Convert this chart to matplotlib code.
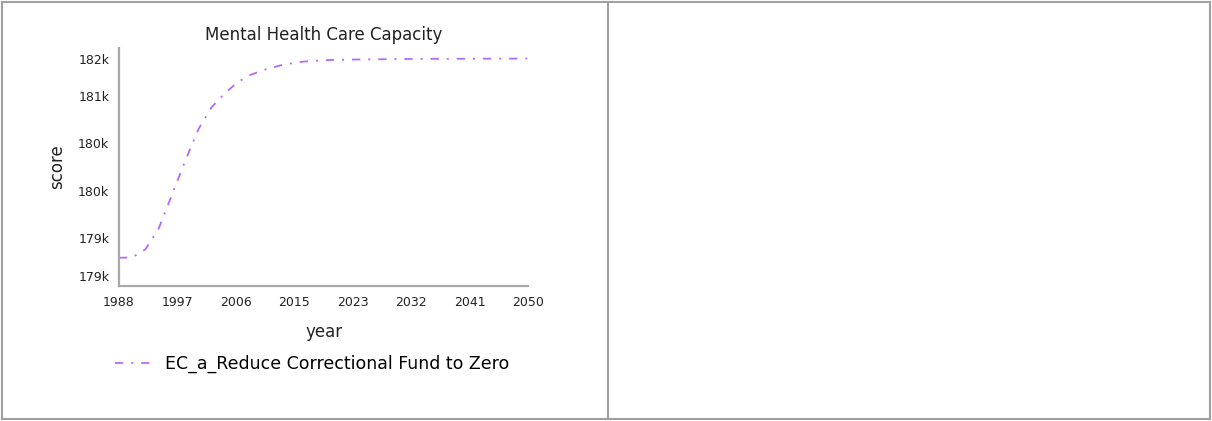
import matplotlib
matplotlib.use("Agg")
import matplotlib.pyplot as plt
from matplotlib.lines import Line2D
from matplotlib.ticker import FuncFormatter

# values
years = [1988, 1990, 1992, 1994, 1996, 1998, 2000, 2002, 2004, 2006,
         2008, 2010, 2013, 2016, 2020, 2026, 2035, 2050]
capacity = [179087, 179090, 179190, 179440, 179850, 180260, 180650, 180920,
            181090, 181230, 181320, 181380, 181445, 181480, 181500, 181508,
            181514, 181517]
x_ticks = [1988, 1996.857, 2005.714, 2014.571, 2023.429, 2032.286, 2041.143, 2050]
x_tick_labels = ["1988", "1997", "2006", "2015", "2023", "2032", "2041", "2050"]
y_ticks = [178860, 179330, 179900, 180490, 181060, 181507]
series_name = "EC_a_Reduce Correctional Fund to Zero"

W, H = 1212, 421
fig = plt.figure(figsize=(W / 100, H / 100), dpi=100)
fig.patch.set_facecolor("white")

ax = fig.add_axes([119 / W, (H - 286) / H, (528 - 119) / W, 238 / H])
ax.plot(years, capacity, color="#b36bff", lw=1.3,
        ls=(0, (4.6, 4.4, 1.1, 4.4)), label=series_name)

ax.set_xlim(1988, 2050)
ax.set_ylim(178742, 181646)
ax.set_xticks(x_ticks)
ax.set_xticklabels(x_tick_labels)
ax.set_yticks(y_ticks)
ax.yaxis.set_major_formatter(FuncFormatter(lambda v, p: f"{v / 1000:.0f}k"))
ax.tick_params(length=0, labelsize=9, pad=7, colors="#222222")

for s in ["top", "right"]:
    ax.spines[s].set_visible(False)
for s in ["left", "bottom"]:
    ax.spines[s].set_color("#a8a8a8")
    ax.spines[s].set_linewidth(1.6)

ax.set_title("Mental Health Care Capacity", fontsize=12, pad=6, color="#222222")
ax.set_xlabel("year", fontsize=12, labelpad=10, color="#222222")
ax.set_ylabel("score", fontsize=12, labelpad=9, color="#222222")

ax.legend(loc="center left", bbox_to_anchor=(115 / W, 1 - 364 / H),
          bbox_transform=fig.transFigure, frameon=False, fontsize=12.5,
          handlelength=2.1, handletextpad=0.8, borderpad=0, borderaxespad=0)

# panel borders
border = "#a0a0a0"
for xs, ys in [([2.5, 2.5], [2, 419]), ([608, 608], [2, 419]),
               ([1209.5, 1209.5], [2, 419]), ([2, 1210], [2, 2]),
               ([2, 1210], [418.5, 418.5])]:
    fig.add_artist(Line2D([x / W for x in xs], [1 - y / H for y in ys],
                          transform=fig.transFigure, color=border, lw=1.5))

fig.savefig("out.png", dpi=100)
